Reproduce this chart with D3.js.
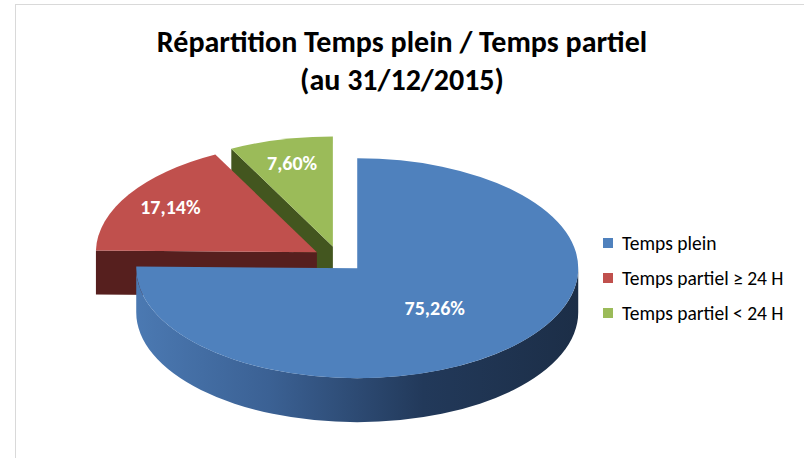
<!DOCTYPE html>
<html lang="fr">
<head>
<meta charset="utf-8">
<title>Répartition Temps plein / Temps partiel</title>
<script src="https://cdn.jsdelivr.net/npm/d3@7"></script>
<style>
  body { margin: 0; background: #fff; }
  svg { display: block; font-family: Carlito, Calibri, Lato, sans-serif; }
</style>
</head>
<body>
<div id="chart"></div>
<script>
// data
var categories = ["Temps plein", "Temps partiel \u2265 24 H", "Temps partiel < 24 H"];
var values = [75.26, 17.14, 7.60];
var valueLabels = ["75,26%", "17,14%", "7,60%"];
var titleLines = ["Répartition Temps plein / Temps partiel", "(au 31/12/2015)"];

var width = 804, height = 458;
var topColors = ["#4f81bd", "#c0504d", "#9bbb59"];
var wallColors = ["url(#blueSide)", "#561f1e", "#43561f"];

// 3d pie geometry
var cx = 339, cy = 259, rx = 221, ry = 110, depth = 44, explode = 26;

var svg = d3.select("#chart").append("svg")
  .attr("width", width)
  .attr("height", height);

// chart frame
svg.append("rect")
  .attr("x", 15.5).attr("y", 4.5)
  .attr("width", 820).attr("height", 480)
  .attr("fill", "none")
  .attr("stroke", "#d9d9d9");

var arcs = d3.pie().sort(null).value(function(d) { return d; })(values);

function rim(c, a, r) {
  r = r == null ? 1 : r;
  return [c[0] + rx * r * Math.sin(a), c[1] - ry * r * Math.cos(a)];
}
function down(p) { return [p[0], p[1] + depth]; }

arcs.forEach(function(d, i) {
  var mid = (d.startAngle + d.endAngle) / 2;
  d.i = i;
  d.c = [cx + explode * Math.sin(mid), cy - explode * (ry / rx) * Math.cos(mid)];
  d.mid = mid;
});

// blue outer wall gradient
var blue = arcs[0];
var grad = svg.append("defs").append("linearGradient")
  .attr("id", "blueSide")
  .attr("gradientUnits", "userSpaceOnUse")
  .attr("x1", blue.c[0] - rx).attr("x2", blue.c[0] + rx)
  .attr("y1", 0).attr("y2", 0);
grad.selectAll("stop")
  .data([[0, "#4b79b2"], [0.3, "#3b6194"], [0.65, "#22395a"], [1, "#1c2e47"]])
  .enter().append("stop")
  .attr("offset", function(s) { return s[0]; })
  .attr("stop-color", function(s) { return s[1]; });

// back to front
var order = arcs.slice().sort(function(a, b) { return a.c[1] - b.c[1]; });

var pie = svg.append("g");

order.forEach(function(d) {
  var g = pie.append("g");
  var a0 = d.startAngle, a1 = d.endAngle;

  // outer curved wall, front half only
  var b0 = Math.max(a0, Math.PI / 2), b1 = Math.min(a1, 3 * Math.PI / 2);
  if (b1 > b0) {
    var p0 = rim(d.c, b0), p1 = rim(d.c, b1);
    var large = (b1 - b0) > Math.PI ? 1 : 0;
    g.append("path")
      .attr("d", "M" + p0 + "A" + rx + "," + ry + " 0 " + large + " 1 " + p1 +
                 "L" + down(p1) + "A" + rx + "," + ry + " 0 " + large + " 0 " + down(p0) + "Z")
      .attr("fill", wallColors[d.i]);
  }

  // radial cut walls facing the viewer
  [[a0, Math.sin(a0) < -1e-6], [a1, Math.sin(a1) > 1e-6]].forEach(function(e) {
    if (!e[1]) return;
    var p = rim(d.c, e[0]);
    g.append("path")
      .attr("d", "M" + d.c + "L" + p + "L" + down(p) + "L" + down(d.c) + "Z")
      .attr("fill", wallColors[d.i] === "url(#blueSide)" ? "#2b4569" : wallColors[d.i]);
  });

  // top face
  var s = rim(d.c, a0), t = rim(d.c, a1);
  var largeTop = (a1 - a0) > Math.PI ? 1 : 0;
  g.append("path")
    .attr("d", "M" + d.c + "L" + s + "A" + rx + "," + ry + " 0 " + largeTop + " 1 " + t + "Z")
    .attr("fill", topColors[d.i]);
});

// data labels
svg.append("g").selectAll("text")
  .data(arcs)
  .enter().append("text")
  .attr("x", function(d) { return rim(d.c, d.mid, d.value > 50 ? 0.5 : 0.78)[0]; })
  .attr("y", function(d) { return rim(d.c, d.mid, d.value > 50 ? 0.5 : 0.78)[1]; })
  .attr("dy", "0.36em")
  .attr("text-anchor", "middle")
  .attr("fill", "#fff")
  .style("font-size", "20px")
  .style("font-weight", "bold")
  .text(function(d) { return valueLabels[d.i]; });

// title
var title = svg.append("g").selectAll("text")
  .data(titleLines)
  .enter().append("text")
  .attr("x", 402)
  .attr("y", function(d, i) { return 52 + i * 38; })
  .attr("text-anchor", "middle")
  .style("font-size", "30px")
  .style("font-weight", "bold")
  .attr("fill", "#000")
  .text(function(d) { return d; });

// squeeze wide fallback fonts to the narrow original
var titleWidth = 500;
var squeeze = Math.min(1, titleWidth / title.node().getComputedTextLength());
title.each(function() {
  var w = this.getComputedTextLength();
  d3.select(this).attr("textLength", w * squeeze).attr("lengthAdjust", "spacingAndGlyphs");
});

// legend
var legend = svg.append("g").selectAll("g")
  .data(categories)
  .enter().append("g")
  .attr("transform", function(d, i) { return "translate(603," + (243 + i * 35) + ")"; });

legend.append("rect")
  .attr("x", 0).attr("y", -5)
  .attr("width", 10).attr("height", 10)
  .attr("fill", function(d, i) { return topColors[i]; });

legend.append("text")
  .attr("x", 19)
  .attr("y", 7)
  .style("font-size", "19.5px")
  .attr("fill", "#000")
  .text(function(d) { return d; });
</script>
</body>
</html>
